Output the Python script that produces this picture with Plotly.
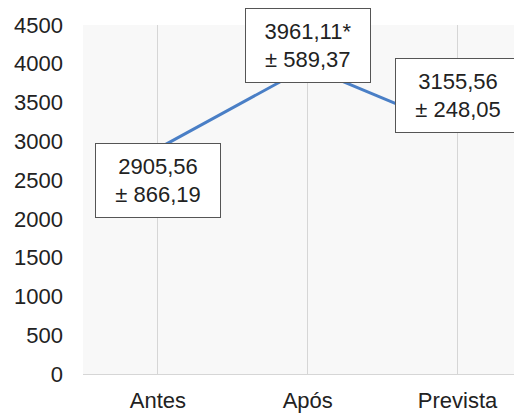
import plotly.graph_objects as go

categories = ["Antes", "Após", "Prevista"]
means = [2905.56, 3961.11, 3155.56]
errors = [866.19, 589.37, 248.05]
marks = ["", "*", ""]
y_ticks = list(range(0, 5000, 500))


def fmt(v):
    return f"{v:.2f}".replace(".", ",")


fig = go.Figure()
fig.add_trace(
    go.Scatter(
        x=categories,
        y=means,
        mode="lines",
        line=dict(color="#4a7fc6", width=3),
        showlegend=False,
        hoverinfo="skip",
    )
)

# label boxes sit on or just below each point
shifts = [-32, 21, 34]
for cat, m, e, mk, s in zip(categories, means, errors, marks, shifts):
    fig.add_annotation(
        x=cat,
        y=m,
        xref="x",
        yref="y",
        text=f"{fmt(m)}{mk}<br>± {fmt(e)}",
        showarrow=False,
        yshift=s,
        font=dict(family="Liberation Sans, Arial", size=22, color="#222222"),
        bgcolor="white",
        bordercolor="#555555",
        borderwidth=1,
        borderpad=0,
        width=124,
        height=73,
        align="center",
    )

# page body adds an 8px offset, margins account for it
fig.update_layout(
    width=522,
    height=413,
    margin=dict(l=75, r=8, t=17, b=47),
    paper_bgcolor="white",
    plot_bgcolor="#f8f8f8",
    font=dict(family="Liberation Sans, Arial", size=22, color="#222222"),
)
fig.update_xaxes(
    range=[-0.5, 2.43],
    automargin=False,
    showgrid=True,
    gridcolor="#d6d6d6",
    gridwidth=1,
    showline=True,
    linecolor="#d6d6d6",
    linewidth=1,
    ticks="",
    ticklabelstandoff=7,
)
fig.update_yaxes(
    range=[0, 4500],
    automargin=False,
    tickvals=y_ticks,
    showgrid=False,
    zeroline=False,
    showline=False,
    ticks="",
    ticklabelstandoff=19,
)

fig.write_html("out.html")
